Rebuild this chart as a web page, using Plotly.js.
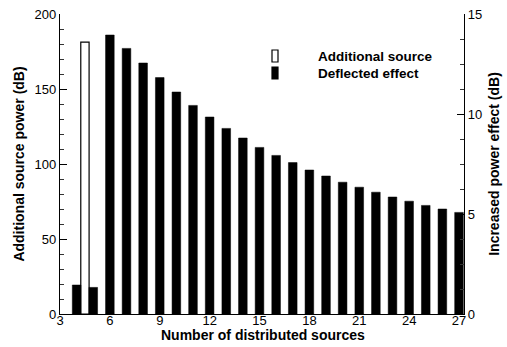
<!DOCTYPE html>
<html>
<head>
<meta charset="utf-8">
<script src="https://cdn.plot.ly/plotly-3.0.1.min.js"></script>
<style>html,body{margin:0;padding:0;background:#fff;}#chart{width:507px;height:347px;}</style>
</head>
<body>
<div id="chart"></div>
<script>
// Data
const additionalX = [4.5];
const additionalPower = [181.3];               // dB, left axis
const deflectedX = [4, 5, 6, 7, 8, 9, 10, 11, 12, 13, 14, 15, 16, 17, 18, 19, 20, 21, 22, 23, 24, 25, 26, 27];
const deflectedEffect = [1.45, 1.33, 13.95, 13.28, 12.55, 11.82, 11.1, 10.43, 9.85, 9.28, 8.8, 8.33, 7.93, 7.57, 7.2, 6.9, 6.59, 6.34, 6.09, 5.85, 5.64, 5.43, 5.25, 5.08]; // dB, right axis
const xTicks = [3, 6, 9, 12, 15, 18, 21, 24, 27];
const legendNames = ['Additional source', 'Deflected effect'];
const xTitle = 'Number of distributed sources';

const FONT = 'Liberation Sans, Arial, Helvetica, sans-serif';

const traces = [
  {
    type: 'bar', name: legendNames[0],
    x: additionalX, y: additionalPower, width: 0.5,
    marker: {color: '#ffffff', line: {color: '#000000', width: 1.2}},
    yaxis: 'y', showlegend: false
  },
  {
    type: 'bar', name: legendNames[1],
    x: deflectedX, y: deflectedEffect, width: 0.52,
    marker: {color: '#000000', line: {color: '#000000', width: 0.5}},
    yaxis: 'y2', showlegend: false
  }
];

// Custom legend (tall narrow keys like the reference), placed in paper coordinates
const plotL = 60, plotW = 404, plotT = 14, plotH = 300;
const px2x = p => (p - plotL) / plotW;
const py2y = p => 1 - (p - plotT) / plotH;
const legendRows = [56, 73];
const keyFill = ['#ffffff', '#000000'];
const shapes = legendRows.map((r, i) => ({
  type: 'rect', xref: 'paper', yref: 'paper',
  x0: px2x(272), x1: px2x(278), y0: py2y(r + 6), y1: py2y(r - 6),
  fillcolor: keyFill[i], line: {color: '#000', width: 1.2}
}));
const annotations = legendRows.map((r, i) => ({
  xref: 'paper', yref: 'paper', x: px2x(316), y: py2y(r),
  xanchor: 'left', yanchor: 'middle', showarrow: false,
  text: legendNames[i],
  font: {family: FONT, size: 13.5, color: '#000', weight: 'bold'}
}));
// x-axis title, placed tight under the tick labels as in the reference
annotations.push({
  xref: 'paper', yref: 'paper', x: px2x(263), y: py2y(334.5),
  xanchor: 'center', yanchor: 'middle', showarrow: false,
  text: xTitle,
  font: {family: FONT, size: 14, color: '#000', weight: 'bold'}
});

const layout = {
  width: 507, height: 347,
  margin: {l: 60, r: 43, t: 14, b: 33},
  paper_bgcolor: '#ffffff', plot_bgcolor: '#ffffff',
  font: {family: FONT, size: 13, color: '#000'},
  barmode: 'overlay',
  showlegend: false,
  shapes: shapes,
  annotations: annotations,
  xaxis: {
    range: [3, 27.3], tickvals: xTicks, ticktext: xTicks.map(String),
    ticks: 'inside', ticklen: 6, tickcolor: '#000', tickwidth: 1,
    showline: true, linecolor: '#000', linewidth: 1.2, mirror: false,
    showgrid: false, zeroline: false,
    ticklabelstandoff: -6,
    tickfont: {family: FONT, size: 13}
  },
  yaxis: {
    range: [0, 200], tick0: 0, dtick: 50,
    ticks: 'inside', ticklen: 7, tickcolor: '#000', tickwidth: 1,
    minor: {dtick: 10, ticks: 'inside', ticklen: 4, tickcolor: '#333', tickwidth: 1},
    showline: true, linecolor: '#000', linewidth: 1.2,
    showgrid: false, zeroline: false,
    tickfont: {family: FONT, size: 13},
    title: {text: 'Additional source power (dB)', font: {family: FONT, size: 14, weight: 'bold'}, standoff: 6}
  },
  yaxis2: {
    range: [0, 15], tick0: 0, dtick: 5, overlaying: 'y', side: 'right',
    ticks: 'inside', ticklen: 7, tickcolor: '#000', tickwidth: 1,
    minor: {dtick: 1.25, ticks: 'inside', ticklen: 4, tickcolor: '#333', tickwidth: 1},
    showline: true, linecolor: '#000', linewidth: 1.2,
    showgrid: false, zeroline: false,
    tickfont: {family: FONT, size: 13},
    title: {text: 'Increased power effect (dB)', font: {family: FONT, size: 14, weight: 'bold'}, standoff: 8}
  }
};

Plotly.newPlot('chart', traces, layout, {displayModeBar: false, staticPlot: true});
</script>
</body>
</html>
